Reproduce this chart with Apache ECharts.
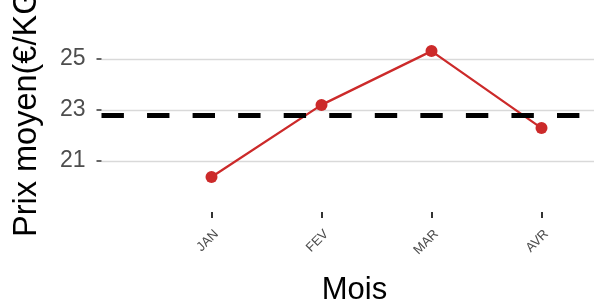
<!DOCTYPE html>
<html><head><meta charset="utf-8">
<script src="https://cdn.jsdelivr.net/npm/echarts@6/dist/echarts.min.js"></script>
<style>html,body{margin:0;padding:0;background:#fff}#c{width:594px;height:303px}</style>
</head><body><div id="c"></div>
<script>
const categories = ['JAN', 'FEV', 'MAR', 'AVR'];
const prices = [20.37, 23.2, 25.31, 22.29];
const yTicks = [21, 23, 25];
const xTitle = 'Mois';
const yTitle = 'Prix moyen(€/KG)';

const mean = prices.reduce((a, b) => a + b, 0) / prices.length;
const xPos = categories.map((c, i) => i + 1);
const chart = echarts.init(document.getElementById('c'));
chart.setOption({
  animation: false,
  grid: { left: 101.5, top: 8, width: 506, height: 204, containLabel: false, outerBoundsMode: 'none' },
  xAxis: {
    type: 'value', min: 0, max: 4.6, interval: 1,
    name: xTitle, nameLocation: 'middle', nameGap: 63,
    nameTextStyle: { fontSize: 31, color: '#000', fontFamily: 'Liberation Sans' },
    axisLine: { show: false },
    splitLine: { show: false },
    axisTick: { show: true, customValues: xPos, length: 6, lineStyle: { color: '#333', width: 2 } },
    axisLabel: {
      customValues: xPos.map(v => v + 0.045), rotate: 45, margin: 20, fontSize: 13, color: '#4d4d4d',
      fontFamily: 'Liberation Sans',
      formatter: v => categories[Math.round(v) - 1] || ''
    }
  },
  yAxis: {
    type: 'value', min: 19, max: 27, interval: 2,
    axisLine: { show: false },
    axisTick: { show: true, customValues: yTicks, length: 5, lineStyle: { color: '#333', width: 1.5 } },
    axisLabel: { customValues: yTicks, fontSize: 23, color: '#4d4d4d', margin: 16, fontFamily: 'Liberation Sans' },
    splitLine: { show: true, lineStyle: { color: '#d9d9d9', width: 1.3 } }
  },
  graphic: [{
    type: 'text', x: 10.5, y: 237, rotation: Math.PI / 2,
    style: { text: yTitle, fontSize: 32.5, fill: '#000', fontFamily: 'Liberation Sans', align: 'left', verticalAlign: 'top' }
  }],
  series: [
    {
      type: 'line', data: [], z: 1,
      markLine: {
        silent: true, symbol: 'none', label: { show: false },
        lineStyle: { color: '#000', width: 5, type: [22.4, 23.15] },
        data: [{ yAxis: mean }]
      }
    },
    {
      type: 'line', z: 3,
      data: prices.map((p, i) => [xPos[i], p]),
      symbol: 'circle', symbolSize: 12,
      lineStyle: { color: '#cc2a2a', width: 2.3 },
      itemStyle: { color: '#cc2a2a' }
    }
  ]
});
</script></body></html>
